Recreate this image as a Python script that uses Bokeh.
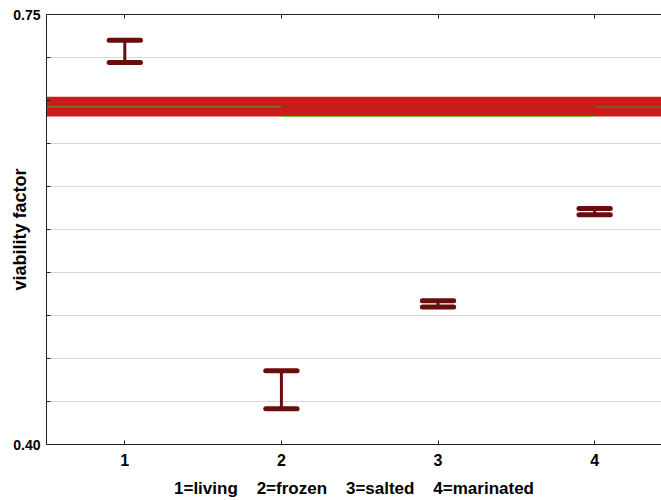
from bokeh.embed import file_html
from bokeh.models import FixedTicker, LinearAxis, Range1d
from bokeh.plotting import figure
from bokeh.resources import INLINE

# Treatment groups and the interval ends of the viability factor
groups = [1, 2, 3, 4]
upper = [0.729, 0.460, 0.517, 0.592]
lower = [0.711, 0.429, 0.512, 0.587]

# Reference band (mean of control) drawn across the whole plot
band_low = 0.667
band_high = 0.683
band_mid = 0.675

y_labelled = [0.40, 0.75]
y_label_text = {0.40: "0.40", 0.75: "0.75"}
y_ticks = [0.40, 0.435, 0.47, 0.505, 0.54, 0.575, 0.61, 0.645, 0.68, 0.715, 0.75]
x_tick_labels = {1: "1", 2: "2", 3: "3", 4: "4"}

FONT = "Liberation Sans"
BAR_COLOR = "#6b0d0d"
AXIS_COLOR = "#222222"
GAP = "\u00a0" * 4
X_TITLE = GAP.join(["1=living", "2=frozen", "3=salted", "4=marinated"])

p = figure(
    width=661, height=500,
    x_range=Range1d(0.5, 4.427), y_range=Range1d(0.40, 0.75),
    output_backend="svg", toolbar_location=None,
    x_axis_location=None, y_axis_location=None,
    min_border_left=46, min_border_right=0, min_border_top=14, min_border_bottom=56,
)
p.outline_line_color = None
p.background_fill_color = "white"
p.border_fill_color = "white"

y_ticker = FixedTicker(ticks=y_labelled, minor_ticks=y_ticks)

# Left axis: inward ticks every 0.035, only the ends labelled
yaxis = LinearAxis(ticker=y_ticker)
yaxis.major_label_overrides = y_label_text
yaxis.major_label_text_font = FONT
yaxis.major_label_text_font_style = "bold"
yaxis.major_label_text_font_size = "14px"
yaxis.major_label_text_color = "black"
yaxis.major_label_standoff = 6
yaxis.major_tick_in = 4
yaxis.major_tick_out = 0
yaxis.minor_tick_in = 4
yaxis.minor_tick_out = 0
yaxis.axis_line_color = AXIS_COLOR
yaxis.major_tick_line_color = AXIS_COLOR
yaxis.minor_tick_line_color = AXIS_COLOR
yaxis.axis_label = "viability factor"
yaxis.axis_label_text_font = FONT
yaxis.axis_label_text_font_style = "bold"
yaxis.axis_label_text_font_size = "18px"
yaxis.axis_label_text_color = "black"
yaxis.axis_label_standoff = -20
p.add_layout(yaxis, "left")

# Bottom axis with the group numbers
xaxis = LinearAxis(ticker=FixedTicker(ticks=groups))
xaxis.major_label_overrides = x_tick_labels
xaxis.major_label_text_font = FONT
xaxis.major_label_text_font_style = "bold"
xaxis.major_label_text_font_size = "16px"
xaxis.major_label_text_color = "black"
xaxis.major_label_standoff = 9
xaxis.major_tick_in = 4
xaxis.major_tick_out = 0
xaxis.minor_tick_line_color = None
xaxis.axis_line_color = AXIS_COLOR
xaxis.major_tick_line_color = AXIS_COLOR
xaxis.axis_label = X_TITLE
xaxis.axis_label_text_font = FONT
xaxis.axis_label_text_font_style = "bold"
xaxis.axis_label_text_font_size = "17px"
xaxis.axis_label_text_color = "black"
xaxis.axis_label_standoff = 10
p.add_layout(xaxis, "below")

# Top frame line with inward ticks only (no labels)
taxis = LinearAxis(ticker=FixedTicker(ticks=[], minor_ticks=groups))
taxis.major_label_standoff = 0
taxis.minor_tick_in = 4
taxis.minor_tick_out = 0
taxis.axis_line_color = AXIS_COLOR
taxis.minor_tick_line_color = AXIS_COLOR
p.add_layout(taxis, "above")

p.xgrid.visible = False
p.ygrid.ticker = y_ticker
p.ygrid.grid_line_color = "#d8d8d8"
p.ygrid.minor_grid_line_color = "#d8d8d8"
p.ygrid.grid_line_width = 1

# Reference band
p.quad(left=0.5, right=4.427, bottom=band_low, top=band_high,
       fill_color="#cc1a1a", line_color=None)
p.segment(x0=[0.5, 2, 4], y0=[band_mid] * 3, x1=[2, 4, 4.427], y1=[band_mid] * 3,
          line_color=["#7a7a1a", "#b0221c", "#8a5a1a"], line_width=1.5)
p.segment(x0=[2], y0=[band_low], x1=[4], y1=[band_low],
          line_color="#66cc33", line_width=1)

# Interval bars: stem plus caps
cap = 0.1
p.segment(x0=groups, y0=lower, x1=groups, y1=upper,
          line_color=BAR_COLOR, line_width=3)
p.segment(x0=[g - cap for g in groups], y0=upper, x1=[g + cap for g in groups], y1=upper,
          line_color=BAR_COLOR, line_width=5, line_cap="round")
p.segment(x0=[g - cap for g in groups], y0=lower, x1=[g + cap for g in groups], y1=lower,
          line_color=BAR_COLOR, line_width=5, line_cap="round")

open("out.html", "w").write(file_html(p, INLINE))
